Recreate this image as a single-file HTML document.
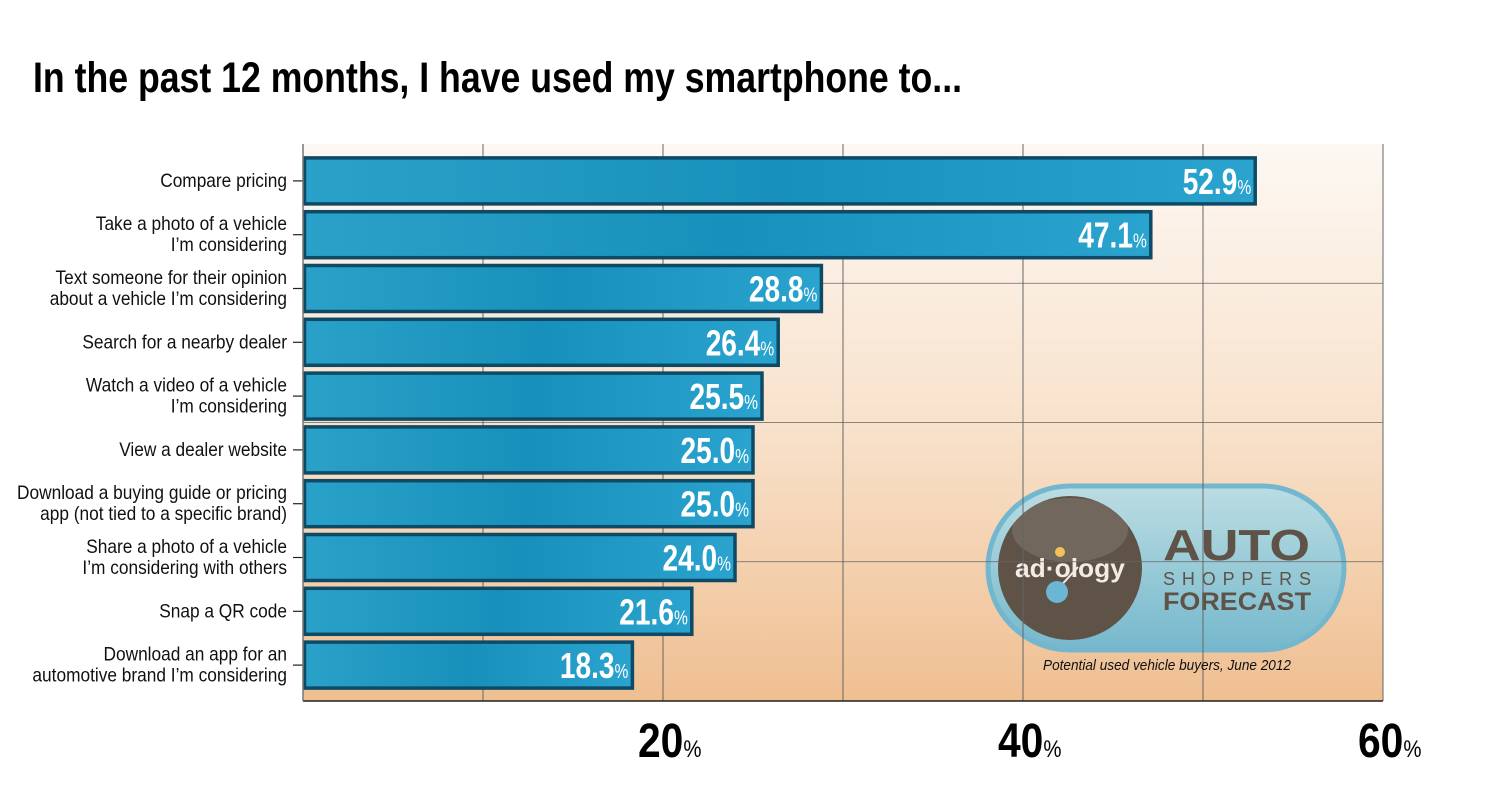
<!DOCTYPE html>
<html><head><meta charset="utf-8"><style>
html,body{margin:0;padding:0;background:#fff;}
svg{display:block;}
.n{font-family:"Liberation Sans Narrow","Liberation Sans",sans-serif;}
</style></head><body>
<svg id="c" width="1500" height="800" viewBox="0 0 1500 800">
<defs>
<linearGradient id="bg" x1="0" y1="0" x2="0" y2="1">
<stop offset="0" stop-color="#fdf8f3"/><stop offset="0.5" stop-color="#f8e2cc"/><stop offset="1" stop-color="#efbf91"/>
</linearGradient>
<linearGradient id="bar" x1="0" y1="0" x2="1" y2="0">
<stop offset="0" stop-color="#2aa1c8"/><stop offset="0.5" stop-color="#1790bb"/><stop offset="1" stop-color="#2aa4cf"/>
</linearGradient>
<linearGradient id="pill" x1="0" y1="0" x2="0" y2="1">
<stop offset="0" stop-color="#b9dde6"/><stop offset="1" stop-color="#6fb8cf"/>
</linearGradient>
</defs>
<text class="n" x="33" y="92" font-size="43" font-weight="bold" fill="#000" textLength="929" lengthAdjust="spacingAndGlyphs">In the past 12 months, I have used my smartphone to...</text>
<rect x="303" y="144" width="1080" height="557" fill="url(#bg)"/>
<g id="logo">
<rect x="988" y="486" width="356" height="164" rx="82" fill="url(#pill)" stroke="#6db6d0" stroke-width="5" opacity="0.95"/>
<circle cx="1070" cy="568" r="72" fill="#5f5246"/>
<ellipse cx="1070" cy="530" rx="58" ry="32" fill="#fff" opacity="0.12"/>
<line x1="1057" y1="590" x2="1078" y2="567" stroke="#eee" stroke-width="2"/>
<circle cx="1057" cy="592" r="11" fill="#6bb6d2"/>
<circle cx="1060" cy="552" r="5" fill="#f2c15a"/>
<text x="1015" y="577" font-family="Liberation Sans" font-weight="bold" font-size="26" fill="#f4ece2" textLength="110" lengthAdjust="spacingAndGlyphs">ad·ology</text>
<text x="1163" y="560" font-family="Liberation Sans" font-weight="bold" font-size="44" fill="#5f5246" textLength="147" lengthAdjust="spacingAndGlyphs">AUTO</text>
<text x="1163" y="585" font-family="Liberation Sans" font-size="18" fill="#5f5246" textLength="148" lengthAdjust="spacing">SHOPPERS</text>
<text x="1163" y="610" font-family="Liberation Sans" font-weight="bold" font-size="25" fill="#5f5246" textLength="148" lengthAdjust="spacingAndGlyphs">FORECAST</text>
</g>
<g id="grid"></g>
<text class="n" x="1043" y="670" font-size="15" font-style="italic" fill="#111" textLength="248" lengthAdjust="spacingAndGlyphs">Potential used vehicle buyers, June 2012</text>
<g id="bars"></g>
<line x1="303" y1="701" x2="1383" y2="701" stroke="#222" stroke-width="1.5"/>
<line x1="303" y1="144" x2="303" y2="701" stroke="#777" stroke-width="1.5"/>
<g id="axis"></g>
</svg>
<script>
const categories=[["Compare pricing"],["Take a photo of a vehicle","I’m considering"],["Text someone for their opinion","about a vehicle I’m considering"],["Search for a nearby dealer"],["Watch a video of a vehicle","I’m considering"],["View a dealer website"],["Download a buying guide or pricing","app (not tied to a specific brand)"],["Share a photo of a vehicle","I’m considering with others"],["Snap a QR code"],["Download an app for an","automotive brand I’m considering"]];
const values=[52.9,47.1,28.8,26.4,25.5,25.0,25.0,24.0,21.6,18.3];
const gridTicks=[10,20,30,40,50,60];
const tickLabels=[20,40,60];
const NS="http://www.w3.org/2000/svg";
const X0=303,X1=1383,VMAX=60,PTOP=144,PBOT=701;
const xs=v=>X0+(X1-X0)*v/VMAX;
const band=(PBOT-PTOP-19)/categories.length;
const yc=i=>PTOP+10+band*i+band/2;
function mk(t,a,p){const e=document.createElementNS(NS,t);for(const k in a)e.setAttribute(k,a[k]);p.appendChild(e);return e;}
const grid=document.getElementById('grid');
gridTicks.forEach(t=>{const l=mk('line',{x1:xs(t),x2:xs(t),y1:PTOP,y2:PBOT,stroke:'#666','stroke-width':1},grid);

});
[0,1,2].forEach(k=>{const y=PTOP+(PBOT-PTOP)*(k+1)/4.0;const l=mk('line',{x1:X0,x2:X1,y1:y,y2:y,stroke:'#666','stroke-width':0.8},grid);

});
const bars=document.getElementById('bars');
values.forEach((v,i)=>{
const y=yc(i),h=46;
const g=mk('g',{},bars);


const r=mk('rect',{x:X0+1.5,y:y-h/2,width:xs(v)-X0-1.5,height:h,fill:'url(#bar)',stroke:'#0e4a66','stroke-width':3.5},g);


mk('line',{x1:293,x2:303,y1:y,y2:y,stroke:'#222','stroke-width':1.2},g);
const lines=categories[i];
lines.forEach((s,j)=>{const t=mk('text',{x:0,y:0,transform:'translate(287,'+(y+6+(j-(lines.length-1)/2)*21)+') scale(0.91,1)','text-anchor':'end','font-size':19,fill:'#111',class:'n'},g);
t.textContent=s;

});
const vt=mk('text',{x:0,y:0,transform:'translate('+(xs(v)-4)+','+(y+13)+') scale(0.78,1)','text-anchor':'end',fill:'#fff',class:'n','font-weight':'bold','font-size':36},g);


const a=document.createElementNS(NS,'tspan');a.textContent=v.toFixed(1);vt.appendChild(a);
const b=document.createElementNS(NS,'tspan');b.setAttribute('font-size','20');b.setAttribute('font-weight','normal');b.textContent='%';vt.appendChild(b);
});
const axis=document.getElementById('axis');
tickLabels.forEach(t=>{const tx=mk('text',{x:0,y:0,transform:'translate('+(xs(t)-25)+',757) scale(0.85,1)',class:'n','font-weight':'bold','font-size':48,fill:'#000'},axis);


const a=document.createElementNS(NS,'tspan');a.textContent=t;tx.appendChild(a);
const b=document.createElementNS(NS,'tspan');b.setAttribute('font-size','24');b.setAttribute('font-weight','normal');b.textContent='%';tx.appendChild(b);});
</script>
</body></html>
